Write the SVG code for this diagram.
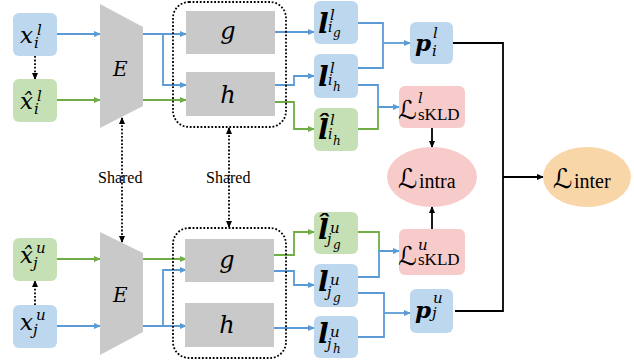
<svg xmlns="http://www.w3.org/2000/svg" width="634" height="362" viewBox="0 0 634 362">
<defs>
<style>
.bb{fill:#bdd7ee}
.gb{fill:#c5e0b4}
.pk{fill:#f8cbcb}
.gr{fill:#c9c9c9}
.bl{fill:none;stroke:#5b9bd5;stroke-width:1.8}
.gl{fill:none;stroke:#70ad47;stroke-width:1.8}
.kl{fill:none;stroke:#000;stroke-width:1.8}
.dt{fill:none;stroke:#000;stroke-width:1.8;stroke-dasharray:1.8 1.8}
.m{font-family:'DejaVu Serif','Liberation Serif',serif;font-style:italic}
.mb{font-family:'DejaVu Serif','Liberation Serif',serif;font-style:italic;font-weight:bold}
.sc{font-family:'DejaVu Serif','DejaVu Sans',serif}
.t{font-family:'Liberation Serif','DejaVu Serif',serif}
</style>
<marker id="ab" markerWidth="7" markerHeight="6" refX="6" refY="3" orient="auto" markerUnits="userSpaceOnUse"><path d="M0,0 L7,3 L0,6 Z" fill="#5b9bd5"/></marker>
<marker id="ag" markerWidth="7" markerHeight="6" refX="6" refY="3" orient="auto" markerUnits="userSpaceOnUse"><path d="M0,0 L7,3 L0,6 Z" fill="#70ad47"/></marker>
<marker id="ak" markerWidth="7" markerHeight="6" refX="6" refY="3" orient="auto" markerUnits="userSpaceOnUse"><path d="M0,0 L7,3 L0,6 Z" fill="#000"/></marker>
<marker id="aks" markerWidth="7" markerHeight="6" refX="6" refY="3" orient="auto-start-reverse" markerUnits="userSpaceOnUse"><path d="M0,0 L7,3 L0,6 Z" fill="#000"/></marker>
</defs>
<rect width="634" height="362" fill="#fff"/>

<g id="connectors">
<path class="bl" d="M57,34 H100" marker-end="url(#ab)"/>
<path class="gl" d="M57,100 H100" marker-end="url(#ag)"/>
<path class="dt" d="M35,56 V79" marker-end="url(#ak)"/>
<path class="bl" d="M143,34 H186" marker-end="url(#ab)"/>
<path class="bl" d="M163,34 V85 H186" marker-end="url(#ab)"/>
<path class="gl" d="M143,100 H186" marker-end="url(#ag)"/>
<path class="bl" d="M275,32 H314" marker-end="url(#ab)"/>
<path class="bl" d="M275,85 H294 V76 H314" marker-end="url(#ab)"/>
<path class="gl" d="M275,102 H294 V129 H314" marker-end="url(#ag)"/>
<path class="bl" d="M358,23 H383 V68 H358"/>
<path class="bl" d="M383,43 H410" marker-end="url(#ab)"/>
<path class="gl" d="M358,129 H378 V107"/>
<path class="bl" d="M358,85 H378 V107 H399" marker-end="url(#ab)"/>
<path class="kl" d="M432,128 V147" marker-end="url(#ak)"/>
<path class="kl" d="M453,43 H503 V311 H455"/>
<path class="kl" d="M503,177 H543" marker-end="url(#ak)"/>
<path class="kl" d="M432,229 V207" marker-end="url(#ak)"/>
<path class="gl" d="M57,259 H100" marker-end="url(#ag)"/>
<path class="bl" d="M57,326 H100" marker-end="url(#ab)"/>
<path class="dt" d="M35,305 V281" marker-end="url(#ak)"/>
<path class="gl" d="M143,259 H186" marker-end="url(#ag)"/>
<path class="bl" d="M143,326 H186" marker-end="url(#ab)"/>
<path class="bl" d="M163,326 V270 H186" marker-end="url(#ab)"/>
<path class="gl" d="M274,255 H294 V232 H314" marker-end="url(#ag)"/>
<path class="bl" d="M274,271 H294 V285 H314" marker-end="url(#ab)"/>
<path class="bl" d="M274,328 H314" marker-end="url(#ab)"/>
<path class="gl" d="M358,232 H379 V251"/>
<path class="bl" d="M358,277 H379 V251 H399" marker-end="url(#ab)"/>
<path class="bl" d="M358,293 H384 V337 H358"/>
<path class="bl" d="M384,313 H410" marker-end="url(#ab)"/>
<path class="dt" d="M122,118 V242" marker-start="url(#aks)" marker-end="url(#aks)"/>
<path class="dt" d="M229,128 V227" marker-start="url(#aks)" marker-end="url(#aks)"/>
</g>

<g id="shared-labels">
<text class="t" x="98" y="183" font-size="16">Shared</text>
<text class="t" x="206" y="183" font-size="16">Shared</text>
</g>

<g id="xil">
<rect class="bb" x="13" y="13" width="44" height="43" rx="6"/>
<text class="m" x="20" y="43" font-size="23">x</text>
<text class="m" x="37" y="35" font-size="15">l</text>
<text class="m" x="34" y="48" font-size="15">i</text>
</g>
<g id="xhil">
<rect class="gb" x="13" y="79" width="44" height="43" rx="6"/>
<text class="m" x="20" y="109" font-size="23">x̂</text>
<text class="m" x="37" y="101" font-size="15">l</text>
<text class="m" x="34" y="114" font-size="15">i</text>
</g>
<g id="E-top">
<polygon class="gr" points="100,4 143,27 143,106 100,128"/>
<text class="m" x="113" y="76" font-size="20">E</text>
</g>
<g id="gh-top">
<rect x="173" y="2" width="113" height="125" rx="16" class="dt"/>
<rect class="gr" x="186" y="11" width="89" height="43"/>
<text class="m" x="228" y="39" font-size="24" text-anchor="middle">g</text>
<rect class="gr" x="186" y="72" width="89" height="44"/>
<text class="m" x="228" y="103" font-size="24" text-anchor="middle">h</text>
</g>
<g id="lig">
<rect class="bb" x="314" y="1" width="44" height="43" rx="6"/>
<text class="mb" x="318" y="33" font-size="28">l</text>
<text class="m" x="330" y="20" font-size="15">l</text>
<text class="m" x="328" y="32" font-size="14">i</text>
<text class="m" x="333" y="37" font-size="12">g</text>
</g>
<g id="lih">
<rect class="bb" x="314" y="54" width="44" height="44" rx="6"/>
<text class="mb" x="318" y="86" font-size="28">l</text>
<text class="m" x="330" y="73" font-size="15">l</text>
<text class="m" x="328" y="85" font-size="14">i</text>
<text class="m" x="333" y="91" font-size="12">h</text>
</g>
<g id="lhih">
<rect class="gb" x="314" y="108" width="44" height="43" rx="6"/>
<text class="mb" x="318" y="139" font-size="28">l̂</text>
<text class="m" x="330" y="125" font-size="15">l</text>
<text class="m" x="328" y="139" font-size="14">i</text>
<text class="m" x="333" y="145" font-size="12">h</text>
</g>
<g id="pil">
<rect class="bb" x="410" y="22" width="43" height="42" rx="6"/>
<text class="mb" x="415" y="51" font-size="23">p</text>
<text class="m" x="433" y="38" font-size="15">l</text>
<text class="m" x="432" y="56" font-size="15">i</text>
</g>
<g id="skld-l">
<rect class="pk" x="399" y="86" width="66" height="42" rx="6"/>
<text class="sc" x="398" y="119" font-size="26">ℒ</text>
<text class="m" x="418" y="103" font-size="15">l</text>
<text class="t" x="418" y="120" font-size="17">sKLD</text>
</g>
<g id="intra">
<ellipse cx="432" cy="177" rx="45" ry="30" fill="#f8cbcb"/>
<text class="sc" x="398" y="188" font-size="27">ℒ</text>
<text class="t" x="419" y="188" font-size="20">intra</text>
</g>
<g id="inter">
<ellipse cx="587" cy="177" rx="44" ry="30" fill="#f9d6a8"/>
<text class="sc" x="553" y="188" font-size="27">ℒ</text>
<text class="t" x="574" y="188" font-size="20">inter</text>
</g>

<g id="xhju">
<rect class="gb" x="13" y="238" width="44" height="43" rx="6"/>
<text class="m" x="20" y="263" font-size="23">x̂</text>
<text class="m" x="36" y="253" font-size="15">u</text>
<text class="m" x="33" y="268" font-size="15">j</text>
</g>
<g id="xju">
<rect class="bb" x="13" y="305" width="44" height="43" rx="6"/>
<text class="m" x="20" y="330" font-size="23">x</text>
<text class="m" x="36" y="320" font-size="15">u</text>
<text class="m" x="33" y="335" font-size="15">j</text>
</g>
<g id="E-bottom">
<polygon class="gr" points="100,232 143,253 143,332 100,355"/>
<text class="m" x="113" y="302" font-size="20">E</text>
</g>
<g id="gh-bottom">
<rect x="173" y="228" width="113" height="130" rx="16" class="dt"/>
<rect class="gr" x="185" y="239" width="89" height="43"/>
<text class="m" x="227" y="268" font-size="24" text-anchor="middle">g</text>
<rect class="gr" x="185" y="303" width="89" height="44"/>
<text class="m" x="227" y="333" font-size="24" text-anchor="middle">h</text>
</g>
<g id="lhjg">
<rect class="gb" x="314" y="212" width="44" height="42" rx="6"/>
<text class="mb" x="318" y="239" font-size="28">l̂</text>
<text class="m" x="330" y="233" font-size="15">u</text>
<text class="m" x="327" y="244" font-size="14">j</text>
<text class="m" x="333" y="249" font-size="12">g</text>
</g>
<g id="ljg">
<rect class="bb" x="314" y="264" width="44" height="43" rx="6"/>
<text class="mb" x="318" y="291" font-size="28">l</text>
<text class="m" x="330" y="285" font-size="15">u</text>
<text class="m" x="327" y="297" font-size="14">j</text>
<text class="m" x="333" y="302" font-size="12">g</text>
</g>
<g id="ljh">
<rect class="bb" x="314" y="316" width="44" height="42" rx="6"/>
<text class="mb" x="318" y="343" font-size="28">l</text>
<text class="m" x="330" y="337" font-size="15">u</text>
<text class="m" x="327" y="349" font-size="14">j</text>
<text class="m" x="333" y="353" font-size="12">h</text>
</g>
<g id="pju">
<rect class="bb" x="410" y="289" width="43" height="44" rx="6"/>
<text class="mb" x="415" y="318" font-size="23">p</text>
<text class="m" x="433" y="303" font-size="15">u</text>
<text class="m" x="432" y="318" font-size="15">j</text>
</g>
<g id="skld-u">
<rect class="pk" x="399" y="229" width="66" height="46" rx="6"/>
<text class="sc" x="398" y="265" font-size="26">ℒ</text>
<text class="m" x="418" y="250" font-size="15">u</text>
<text class="t" x="418" y="265" font-size="17">sKLD</text>
</g>
</svg>
